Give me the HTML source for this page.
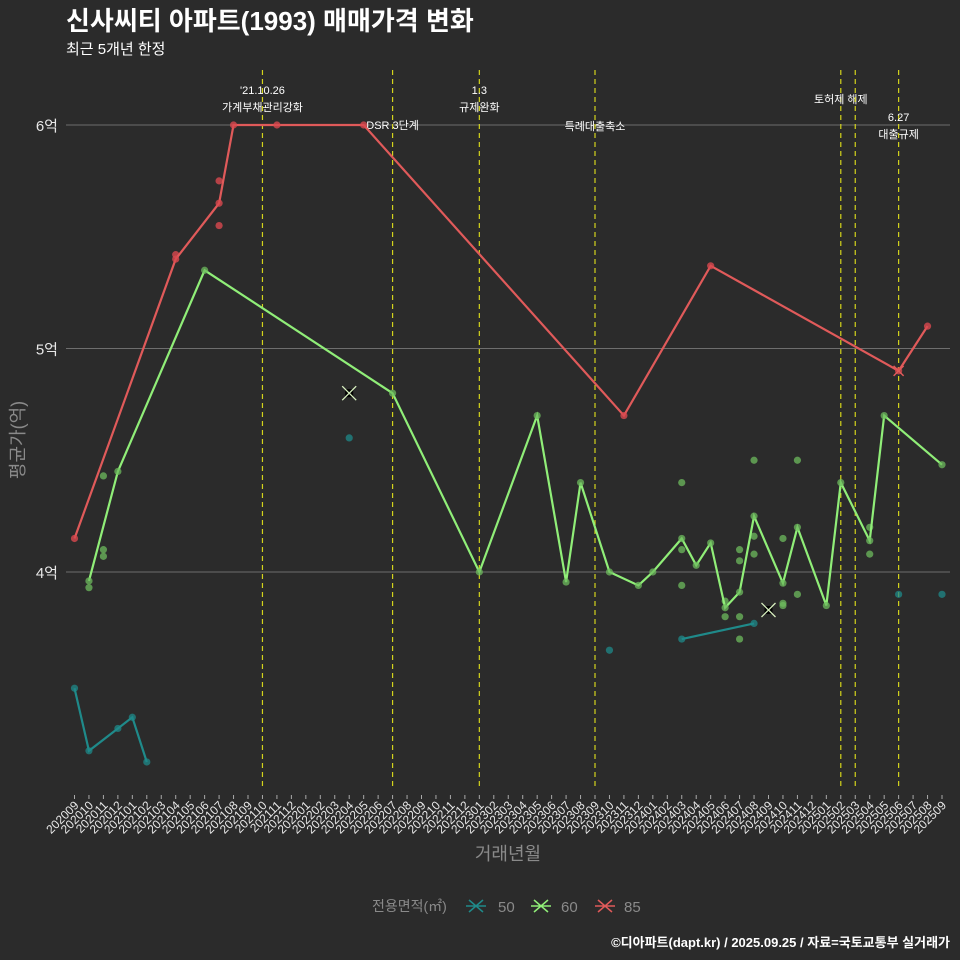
<!DOCTYPE html>
<html><head><meta charset="utf-8">
<style>
html,body{margin:0;padding:0;background:#2b2b2b;}
svg{display:block;font-family:"Liberation Sans","Noto Sans CJK KR",sans-serif;}
</style></head>
<body>
<svg id="chart" width="960" height="960" viewBox="0 0 960 960">
<rect x="0" y="0" width="960" height="960" fill="#2b2b2b"/>
<text x="66" y="30" font-size="26" font-weight="bold" fill="#ffffff">신사씨티 아파트(1993) 매매가격 변화</text>
<text x="66" y="54" font-size="15" fill="#ffffff">최근 5개년 한정</text>
<g id="grid"></g><g id="vlines"></g><g id="series"></g><g id="xaxis"></g><g id="yaxis"></g>
<text transform="translate(24,440) rotate(-90)" text-anchor="middle" font-size="18" fill="#8a8a8a">평균가(억)</text>
<text x="508" y="860" text-anchor="middle" font-size="18" fill="#8a8a8a">거래년월</text>
<g>
<text x="372" y="911" font-size="14" fill="#8a8a8a">전용면적(㎡)</text>
<g><path d="M466 906h20M469 900l14 12M469 912l14-12" stroke="#1f8a8a" stroke-width="1.5"/><text x="498" y="912" font-size="15" fill="#8a8a8a">50</text></g>
<g><path d="M531 906h20M534 900l14 12M534 912l14-12" stroke="#90ee78" stroke-width="1.5"/><text x="561" y="912" font-size="15" fill="#8a8a8a">60</text></g>
<g><path d="M595 906h20M598 900l14 12M598 912l14-12" stroke="#e05a5a" stroke-width="1.5"/><text x="624" y="912" font-size="15" fill="#8a8a8a">85</text></g>
</g>
<text x="950" y="947" text-anchor="end" font-size="13" font-weight="bold" fill="#ffffff">©디아파트(dapt.kr) / 2025.09.25 / 자료=국토교통부 실거래가</text>
</svg>
<script>
const NS="http://www.w3.org/2000/svg";
const categories=[];for(let y=2020,m=9;!(y===2025&&m===10);){categories.push(""+y+(m<10?"0":"")+m);m++;if(m>12){m=1;y++;}}
const yTicks=[4,5,6];
const yTickLabels=["4억","5억","6억"];
const line85Months=["202009","202104","202107","202108","202111","202205","202311","202405","202506","202508"];
const line85Values=[4.15,5.40,5.65,6.0,6.0,6.0,4.70,5.37,4.90,5.10];
const pts85Months=["202104","202107","202107"];
const pts85Values=[5.42,5.75,5.55];
const line60Months=["202010","202012","202106","202207","202301","202305","202307","202308","202310","202312","202401","202403","202404","202405","202406","202407","202408","202410","202411","202501","202502","202504","202505","202509"];
const line60Values=[3.96,4.45,5.35,4.80,4.0,4.70,3.955,4.40,4.0,3.94,4.0,4.15,4.03,4.13,3.84,3.91,4.25,3.95,4.20,3.85,4.40,4.14,4.70,4.48];
const pts60Months=["202010","202011","202011","202011","202403","202403","202403","202406","202406","202407","202407","202407","202407","202408","202408","202408","202410","202410","202410","202411","202411","202504","202504"];
const pts60Values=[3.93,4.10,4.07,4.43,4.40,4.10,3.94,3.87,3.80,4.10,4.05,3.80,3.70,4.50,4.16,4.08,4.15,3.85,3.86,4.50,3.90,4.20,4.08];
const line50aMonths=["202009","202010","202012","202101","202102"];
const line50aValues=[3.48,3.20,3.30,3.35,3.15];
const line50bMonths=["202403","202408"];
const line50bValues=[3.70,3.77];
const pts50Months=["202204","202310","202506","202509"];
const pts50Values=[4.60,3.65,3.90,3.90];
const crossMonths=["202204","202409"];
const crossValues=[4.80,3.83];
const eventMonths=["202110","202207","202301","202309","202502","202503","202506"];
const eventLabels=[["'21.10.26","가계부채관리강화"],["DSR 3단계"],["1.3","규제완화"],["특례대출축소"],["토허제 해제"],[],["6.27","대출규제"]];
const eventLabelY=[[94,111],[129],[94,111],[130],[103],[],[121,138]];
const eventLabelDx=[0,0,0,0,0,0,0];

const X0=74.5,X1=942,PT=70,PB=790;
function xs(m){return X0+categories.indexOf(m)*(X1-X0)/(categories.length-1);}
function ys(v){return 572-(v-4)*223.5;}
function el(tag,attrs,parent){const e=document.createElementNS(NS,tag);for(const k in attrs)e.setAttribute(k,attrs[k]);parent.appendChild(e);return e;}
const grid=document.getElementById('grid'),vl=document.getElementById('vlines'),ser=document.getElementById('series'),xa=document.getElementById('xaxis'),ya=document.getElementById('yaxis');
yTicks.forEach((t,i)=>{
  const l=el('line',{x1:66,x2:950,y1:ys(t),y2:ys(t),stroke:'#6e6e6e','stroke-width':1},grid);
  
  
  const tx=el('text',{x:58,y:ys(t)+6,'text-anchor':'end','font-size':15,fill:'#e8e8e8'},ya);
  tx.textContent=yTickLabels[i];
  
  
});
categories.forEach(c=>{
  const x=xs(c);
  const tk=el('line',{x1:x,x2:x,y1:795,y2:799,stroke:'#aaaaaa','stroke-width':1},xa);
  
  
  const t=el('text',{transform:`translate(${x+5},806) rotate(-45)`,'text-anchor':'end','font-size':12,fill:'#e8e8e8'},xa);
  t.textContent=c;
  
  
});
eventMonths.forEach((m,i)=>{
  const x=xs(m);
  const l=el('line',{x1:x,x2:x,y1:PT,y2:PB,stroke:'#d4d41c','stroke-width':1.2,'stroke-dasharray':'5,4'},vl);
  
  
  eventLabels[i].forEach((s,j)=>{
    const t=el('text',{x:x+eventLabelDx[i],y:eventLabelY[i][j],'text-anchor':'middle','font-size':11,fill:'#ffffff'},vl);
    t.textContent=s;
    
    
  });
});
function drawLine(ms,vs,color,name){
  const p=el('polyline',{points:ms.map((m,i)=>xs(m)+','+ys(vs[i])).join(' '),fill:'none',stroke:color,'stroke-width':2.2},ser);
  
  
}
function drawPts(ms,vs,color,name,op){
  ms.forEach((m,i)=>{
    const c=el('circle',{cx:xs(m),cy:ys(vs[i]),r:3.6,fill:color,'fill-opacity':op},ser);
    
    
  });
}
drawPts(pts50Months,pts50Values,'#1f8a8a','point-50',0.75);
drawLine(line50aMonths,line50aValues,'#1f8a8a','line-50');
drawLine(line50bMonths,line50bValues,'#1f8a8a','line-50');
drawPts(line50aMonths,line50aValues,'#1f8a8a','point-50',0.75);
drawPts(line50bMonths,line50bValues,'#1f8a8a','point-50',0.75);
drawPts(pts60Months,pts60Values,'#6dbb5e','point-60',0.75);
drawLine(line60Months,line60Values,'#90ee78','line-60');
drawPts(line60Months,line60Values,'#6dbb5e','point-60',0.75);
drawPts(pts85Months,pts85Values,'#d9484f','point-85',0.8);
drawLine(line85Months,line85Values,'#e05a5a','line-85');
drawPts(line85Months,line85Values,'#d9484f','point-85',0.8);
crossMonths.forEach((m,i)=>{
  const x=xs(m),y=ys(crossValues[i]);
  el('rect',{x:x-4,y:y-4,width:8,height:8,fill:'#000'},ser);
  const p=el('path',{d:`M${x-7} ${y-7}L${x+7} ${y+7}M${x-7} ${y+7}L${x+7} ${y-7}`,stroke:'#d8f0c0','stroke-width':1.3},ser);
  
  
});
(function(){const x=xs("202506"),y=ys(4.90);
const p=el('path',{d:`M${x-5} ${y-5}L${x+5} ${y+5}M${x-5} ${y+5}L${x+5} ${y-5}`,stroke:'#e05a5a','stroke-width':1.5},ser);

})();
</script>
</body></html>
